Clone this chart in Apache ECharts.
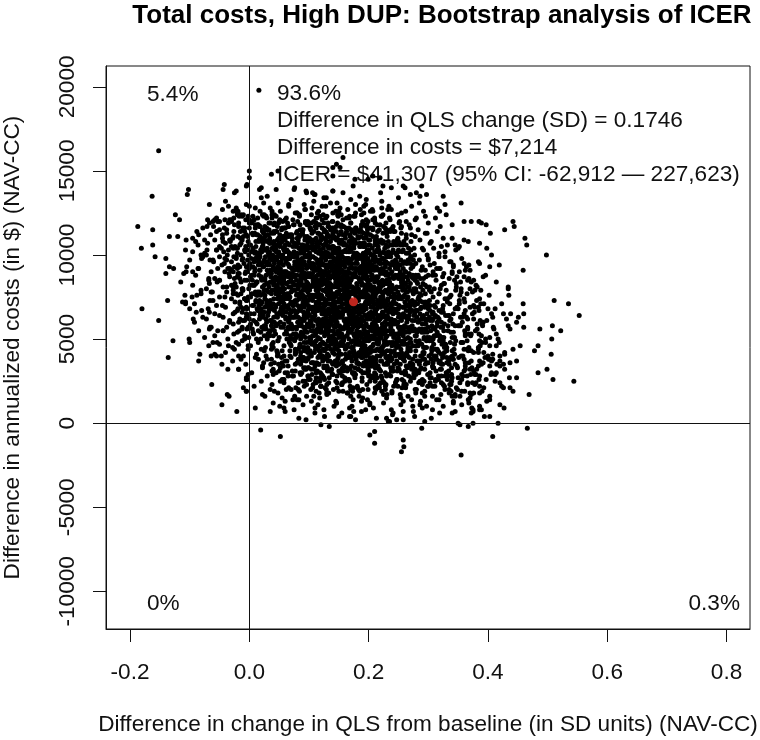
<!DOCTYPE html>
<html><head><meta charset="utf-8">
<script src="https://cdn.jsdelivr.net/npm/echarts@6/dist/echarts.min.js"></script>
<style>html,body{margin:0;padding:0;background:#fff}#chart{width:760px;height:740px}</style>
</head><body><div id="chart"></div>
<script>
// Bootstrap replicates, stored as flat pairs:
// [QLS difference in thousandths of an SD, cost difference in hundreds of $, ...]
const coreUpper = [
-25,137,30,135,75,139,110,136,140,138,185,135,220,137,270,136,
-40,132,-5,130,20,134,48,131,70,133,92,130,108,132,125,134,147,131,170,133,195,130,222,132,250,134,285,131,
-45,127,-20,125,0,129,18,126,35,128,52,126,66,129,80,125,93,127,105,128,116,126,128,129,140,125,152,128,165,127,178,125,192,129,207,126,222,128,238,127,255,125,272,129,292,126,315,128,
-55,122,-30,120,-10,124,8,121,24,123,38,124,50,120,62,122,73,121,84,123,94,120,104,124,113,122,122,121,130,123,139,120,148,124,157,121,167,122,177,123,188,124,199,120,210,121,222,123,235,122,249,124,263,120,278,121,295,123,312,122,-70,121,330,124,
-60,117,-38,115,-18,119,0,116,15,118,29,116,42,119,54,115,65,117,75,118,85,115,94,119,102,116,110,117,118,118,125,115,132,119,139,116,146,117,154,118,162,116,170,119,179,115,188,117,197,118,207,116,218,115,229,119,241,117,254,116,268,118,283,115,300,119,320,117,-78,116,340,118,88,115,148,119,60,116,196,117,
-65,112,-45,110,-26,114,-10,111,5,113,18,110,30,112,41,114,52,111,62,113,71,112,80,110,89,114,97,111,105,113,112,110,119,112,126,114,133,111,140,113,147,110,154,114,161,112,169,111,177,113,185,114,194,110,203,112,213,111,224,113,236,114,249,110,263,112,278,111,295,113,315,114,-85,112,340,110,24,113,66,111,108,114,150,112,192,110,230,113,84,111,128,114,172,110,12,112,
-70,107,-50,105,-32,109,-16,106,-2,108,11,105,23,107,34,109,45,106,55,108,64,107,73,105,82,109,90,106,98,108,106,105,113,107,120,109,127,106,134,108,141,105,148,109,155,107,162,106,169,108,177,109,185,105,193,107,202,106,211,108,221,109,232,105,244,107,257,106,271,108,286,109,303,107,322,105,-90,108,345,106,18,109,50,107,78,105,102,108,124,106,146,109,168,105,190,107,215,108,240,106,60,109,116,105,176,107,30,108,88,106,200,109,
-75,101,-55,103,-37,100,-21,104,-7,102,6,104,18,101,29,103,39,100,49,102,58,103,67,100,75,102,83,104,91,101,98,100,105,104,112,102,119,103,126,101,133,104,140,102,147,101,154,100,161,103,168,102,175,104,183,100,191,101,199,103,208,100,217,103,227,104,238,101,250,102,263,101,277,100,292,103,309,104,328,102,-95,102,350,104,14,101,44,103,70,100,94,103,116,101,136,104,156,102,178,100,202,101,230,100,258,103,60,102,108,104,150,104,196,102,80,100,124,101,170,103,34,100,214,102,100,104,140,101
];
const coreMiddle = [
-80,98,-60,96,-42,95,-26,99,-12,97,1,95,13,99,24,96,34,98,44,97,53,96,62,98,70,99,78,95,86,97,93,99,100,96,107,95,114,97,121,98,128,97,135,95,142,98,149,99,156,96,163,98,170,97,177,95,184,99,191,96,199,95,207,97,216,96,225,98,235,99,246,96,258,95,271,99,285,97,300,98,318,99,338,96,-100,97,360,95,10,98,40,97,68,98,92,96,114,95,134,99,154,96,174,99,196,98,220,97,248,95,55,98,104,95,146,97,188,99,76,96,120,97,166,98,30,95,210,96,96,99,138,95,180,97,18,99,240,96,160,98,
-85,92,-64,90,-46,94,-30,91,-16,93,-3,90,9,92,20,94,30,91,40,93,49,92,58,90,66,94,74,91,82,93,89,90,96,92,103,94,110,91,117,93,124,90,131,94,138,92,145,91,152,93,159,94,166,90,173,92,180,91,187,93,194,94,202,90,210,92,219,91,228,93,238,94,249,92,261,90,274,93,288,91,303,94,320,92,340,90,-105,93,362,91,15,94,45,90,72,92,97,93,119,91,139,94,159,90,179,92,200,93,224,91,252,94,60,90,109,93,151,91,193,92,81,94,125,90,171,93,35,91,215,92,101,94,143,90,185,91,23,93,245,92,165,90,128,94,88,91,208,93,52,92,
-90,88,-68,86,-50,85,-34,89,-20,87,-7,89,5,85,16,88,26,86,36,87,45,85,54,87,62,89,70,86,78,88,86,86,93,89,100,87,107,85,114,88,121,87,128,85,135,86,142,88,149,89,156,87,163,88,170,85,177,89,184,86,191,89,198,87,206,88,214,86,223,85,232,88,242,86,253,89,265,87,278,85,292,86,307,88,324,87,344,85,-110,89,366,85,20,87,50,86,77,88,102,89,124,87,144,89,164,85,184,86,205,88,229,88,257,86,65,89,114,85,156,87,198,85,86,88,130,89,176,87,40,86,220,89,106,87,148,85,190,86,28,88,250,86,170,85,133,88,93,89,213,87,57,87,118,89,235,86,
-95,82,-72,80,-54,84,-38,81,-24,83,-11,80,1,82,12,84,22,81,32,83,41,82,50,80,58,84,66,81,74,83,82,80,89,82,96,84,103,81,110,83,117,80,124,84,131,82,138,81,145,83,152,84,159,80,166,82,173,81,180,83,187,84,194,80,201,82,209,81,217,83,226,84,235,82,245,80,256,83,268,81,281,84,295,82,310,80,327,83,347,81,-115,84,370,80,25,82,55,83,82,81,107,84,129,80,149,83,169,81,189,82,210,84,234,80,262,83,70,81,119,82,161,84,203,80,91,81,135,83,181,82,45,80,225,84,111,81,153,83,195,82,33,81,255,84,175,80,138,82,98,83,218,81,62,83,123,84,240,80,8,82,
-88,76,-62,78,-41,75,-27,79,-14,77,-2,75,10,78,19,76,29,79,37,77,47,78,55,75,63,77,72,79,79,76,87,78,94,75,101,79,109,76,116,77,122,75,129,78,136,79,143,76,150,77,157,75,164,79,171,78,178,76,186,77,193,79,200,75,208,76,215,78,224,77,233,79,243,76,252,75,263,78,275,77,288,76,302,79,318,77,336,75,355,78,-108,76,378,79,4,77,33,78,60,75,84,77,106,76,126,79,147,78,167,75,188,76,212,77,238,79,266,75,52,78,98,78,139,77,182,75,76,79,119,76,160,77,228,78,14,76,204,75,112,79,154,76,196,78,24,77,68,75,132,79,175,78,90,76,220,75,144,77,42,79,258,75,190,77,
-92,71,-66,73,-45,70,-30,74,-16,72,-4,73,7,70,17,72,26,74,35,71,44,70,53,72,61,74,69,71,77,73,84,74,92,71,99,70,106,73,113,72,120,74,127,70,134,71,141,73,148,72,155,71,162,74,169,70,176,72,183,73,191,70,198,74,206,72,214,71,222,73,231,70,240,71,250,74,261,72,273,73,286,73,300,70,315,72,332,74,352,71,-112,72,376,70,11,73,40,71,66,74,90,72,112,71,133,74,153,73,173,70,194,71,217,72,243,74,270,70,56,73,103,74,144,72,186,70,80,73,124,71,164,72,232,74,20,71,208,70,117,73,158,71,200,73,30,72,73,70,138,74,180,73,95,71,225,70,149,72,47,74,262,70,195,72,
-80,67,-58,65,-40,69,-24,66,-10,68,2,65,13,68,23,66,33,69,42,67,51,66,60,69,68,65,76,67,84,68,91,66,98,65,105,69,112,67,119,68,126,65,133,67,140,68,147,66,154,69,161,67,168,65,175,68,182,69,189,66,196,68,204,66,212,65,220,69,229,67,238,69,248,68,258,65,269,66,281,67,294,69,308,66,324,68,342,65,362,67,-100,68,384,69,18,66,46,65,72,67,96,65,118,68,139,66,159,67,179,69,200,65,224,66,250,68,278,67,62,69,110,66,150,69,192,67,86,68,130,65,170,67,240,66,26,69,214,68,122,65,162,68,206,65,36,69,80,66,144,67,186,66,100,68,232,67,156,65,54,69,
-72,62,-50,64,-33,61,-18,60,-5,63,7,61,18,64,28,62,38,60,47,63,56,64,65,61,73,63,81,60,89,62,96,63,103,60,110,64,117,61,124,62,131,60,138,63,145,62,152,64,159,61,166,60,173,62,180,63,187,61,194,64,201,63,209,60,217,61,225,64,234,62,243,61,253,63,264,60,276,64,289,62,303,61,318,62,335,64,354,63,-92,60,376,62,387,61,23,64,52,60,78,63,101,64,122,60,143,63,163,61,183,62,205,64,229,63,255,61,283,60,67,62,115,60,156,64,198,62,92,61,136,63,176,62,246,60,31,64,219,63,127,61,168,63,211,61,42,60,85,62,148,64,191,61,106,63,238,62
];
const coreLower = [
-66,57,-44,55,-27,59,-12,56,1,58,13,59,24,56,34,55,44,58,53,57,62,55,71,58,79,56,87,59,95,57,102,58,109,55,116,57,123,59,130,56,137,59,144,57,151,55,158,56,165,58,172,56,179,59,186,58,193,55,200,57,207,58,215,56,223,57,231,59,240,55,250,57,260,58,271,56,283,55,296,59,311,56,327,59,345,58,366,57,-85,55,390,59,28,56,57,57,83,58,106,55,128,57,149,55,169,56,189,58,211,59,235,55,262,57,290,59,72,56,120,58,161,58,204,56,97,59,141,55,182,57,252,56,37,58,225,55,133,59,174,57,217,55,48,59,91,57,154,56,196,58,
-58,52,-36,50,-20,54,-6,51,7,53,19,54,30,50,40,52,50,51,59,53,68,50,77,53,85,52,93,54,101,51,108,52,115,50,122,54,129,53,136,51,143,53,150,51,157,50,164,52,171,54,178,51,185,53,192,50,199,54,206,52,213,54,221,52,229,51,238,53,247,50,257,53,268,54,280,52,293,50,308,51,324,50,342,54,362,52,-75,51,385,53,34,52,63,50,89,53,112,54,134,51,155,51,175,53,196,54,218,50,243,52,270,50,298,51,78,53,126,52,167,54,210,52,103,50,147,53,188,51,258,54,44,53,231,52,140,51,180,50,223,54,
-50,47,-28,45,-12,49,2,46,15,48,27,45,38,47,48,49,58,46,67,48,76,49,85,46,93,45,101,48,109,47,116,45,123,48,130,46,137,49,144,47,151,46,158,49,165,47,172,45,179,48,186,47,193,45,200,49,207,46,214,48,222,45,230,47,239,48,248,46,258,49,269,48,281,46,294,45,309,47,325,49,344,47,365,49,-68,46,390,48,40,45,70,46,96,48,119,47,141,49,162,45,182,48,203,45,226,47,252,49,280,46,306,49,85,47,133,46,174,45,217,48,110,46,154,48,196,49,265,47,
-40,42,-18,40,-2,44,12,41,25,43,37,44,48,41,58,40,68,43,77,42,86,40,95,43,103,41,111,44,119,42,126,43,133,40,140,42,147,44,154,41,161,44,168,42,175,40,182,41,189,43,196,41,203,44,211,43,219,40,227,42,236,43,245,41,255,42,266,44,278,40,291,42,306,43,322,41,340,40,360,44,-58,41,384,44,46,43,78,42,104,40,128,44,150,41,171,42,192,43,214,40,238,42,265,40,292,41,92,43,143,44,184,42,
-28,37,-6,35,10,39,24,36,37,38,49,35,60,37,70,39,80,36,90,38,99,39,108,36,116,35,124,38,132,37,140,35,148,38,156,36,164,39,172,37,180,36,188,39,196,37,204,35,212,38,220,37,229,35,238,39,248,36,258,38,269,35,281,37,294,38,308,36,324,39,342,38,362,36,-46,35,386,37,54,39,88,37,115,39,139,36,161,38,183,35,206,36,232,38,260,37,
-18,32,4,30,22,34,38,31,52,33,65,34,77,31,88,30,99,33,109,32,119,30,128,33,137,31,146,34,155,32,164,33,173,30,182,32,191,34,200,31,209,34,218,32,228,30,238,31,249,33,261,31,274,34,288,33,303,30,320,32,339,33,360,31,-36,32,384,34,60,30,95,32,125,33,150,31,176,30,203,34,
-5,27,20,25,40,29,57,26,72,28,86,29,99,26,111,25,123,28,134,27,145,25,156,28,167,26,178,29,189,27,200,28,211,25,222,27,234,29,247,26,261,29,276,27,293,25,312,26,333,28,356,26,380,29,65,28,118,25,160,27,205,28,
8,22,35,20,58,24,78,21,96,23,112,24,127,21,141,20,155,23,169,22,183,20,197,23,211,21,226,24,242,22,259,23,278,20,299,22,322,24,347,21,374,24,120,22,190,20,
22,17,55,15,84,19,108,16,130,18,150,19,170,16,190,15,210,18,231,17,254,15,279,18,307,16,338,19,372,17,165,18,
40,12,80,14,115,11,145,13,172,10,198,14,225,12,254,11,287,13,325,10,368,12,
60,7,110,9,155,6,195,8,240,5,290,9,345,7,
95,2,170,4,235,1,305,3
];
const denseUpper = [
114,125,186,127,25,124,145,126,232,127,77,125,124,124,203,126,
118,123,190,120,29,122,149,123,236,121,81,120,128,122,207,121,6,123,163,122,108,120,221,123,60,121,175,123,
122,116,194,118,33,119,153,117,240,116,85,118,132,117,211,119,10,118,167,116,112,119,225,117,64,119,179,116,99,118,251,119,47,117,142,116,188,118,26,117,
126,114,198,115,37,113,157,112,244,114,89,113,136,115,215,114,14,112,171,115,116,113,229,115,68,112,183,114,103,115,255,113,51,112,146,114,192,113,30,115,163,114,131,112,207,115,79,113,238,115,120,112,178,114,22,115,
130,111,202,109,41,108,161,110,248,109,93,111,140,110,219,108,18,111,175,109,120,111,233,108,72,110,187,111,107,109,259,108,55,110,150,109,196,111,34,110,167,108,135,111,211,109,83,111,242,108,124,110,182,111,26,109,225,108,99,110,155,109,63,111,263,110,114,108,
134,105,206,104,45,106,165,105,252,107,97,106,144,104,223,107,22,105,179,107,124,104,237,106,76,107,191,105,111,104,263,106,59,105,154,107,200,106,38,104,171,107,139,105,215,107,87,104,246,106,128,107,186,105,30,104,229,106,103,105,159,107,67,106,267,104,118,107,194,105,52,107,148,104,210,106,82,107,175,105,
138,100,210,102,49,101,169,103,256,102,101,100,148,103,227,101,26,103,183,100,128,102,241,103,80,101,195,100,115,102,267,101,63,103,158,102,204,100,42,103,175,101,143,103,219,100,91,102,250,103,132,101,190,100,34,102,233,101,107,103,163,102,71,100,271,103,122,101,198,103,56,100,152,102,214,103,86,101,179,100,21,102,245,101,97,103,225,102,
142,98,214,97,53,99,173,98,260,96,105,99,152,97,231,99,30,96,187,98,132,99,245,97,84,96,199,98,119,97,271,99,67,98,162,96,208,99,46,97,179,99,147,96,223,98,95,99,254,97,136,96,194,98,38,97,237,99,111,98,167,96,75,99,275,97,126,99,202,96,60,98,156,99,218,97,90,96,183,98,25,97,249,99,101,98,229,96,139,99,266,97,80,99,191,96,
146,93,218,95,57,94,177,92,264,95,109,93,156,95,235,92,34,94,191,95,136,93,249,92,88,94,203,93,123,95,275,94,71,92,166,95,212,93,50,95,183,92,151,94,227,95,99,93,258,92,140,94,198,93,42,95,241,94,115,92,171,95,79,93,279,95,130,92,206,94,64,95,160,93,222,92,94,94,187,93,29,95,253,94,105,92,233,95,143,93,270,95,84,92,195,94,119,95,245,93,
150,91,222,90,61,88,181,91,268,89,113,91,160,88,239,90,38,91,195,89,140,88,253,90,92,89,207,91,127,90,279,88,75,91,170,89,216,91,54,88,187,90,155,91,231,89,103,88,262,90,144,89,202,91,46,90,245,88,119,91,175,89,83,91,283,88,134,90,210,91,68,89,164,88,226,90,98,89,191,91,33,90,257,88,109,91,237,89,147,91,274,88,88,90,199,91,123,89,249,88,156,90,72,89,
154,86,226,84,65,87,185,85,272,87,117,84,164,86,243,87,42,85,199,84,144,86,257,85,96,87,211,86,131,84,283,87,79,85,174,87,220,84,58,86,191,87,159,85,235,84,107,86,266,85,148,87,206,86,50,84,249,87,123,85,179,87,87,84,287,86,138,87,214,85,72,84,168,86,230,85,102,87,195,86,37,84,261,87,113,85,241,87,151,84,278,86,92,87,203,85,127,84,253,86,160,85,76,87,
158,80,230,83,69,81,189,83,276,80,121,82,168,83,247,81,46,80,203,82,148,81,261,83,100,82,215,80,135,83,287,81,83,83,178,80,224,82,62,83,195,81,163,80,239,82,111,81,270,83,152,82,210,80,54,83,253,81,127,83,183,80,91,82,291,83,142,81,218,80,76,82,172,81,234,83,106,82,199,80,41,83,265,81,117,83,245,80,155,82,282,83,96,81,207,80,131,82,257,81,164,83,80,82
];
const denseLower = [
162,79,234,77,73,79,193,76,280,78,125,79,172,77,251,76,50,78,207,77,152,79,265,78,104,76,219,79,139,77,291,79,87,76,182,78,228,79,66,77,199,76,167,78,243,77,115,79,274,78,156,76,214,79,58,77,257,79,131,76,187,78,95,79,295,77,146,76,222,78,80,77,176,79,238,78,110,76,203,79,45,77,269,79,121,76,249,78,159,79,286,77,100,76,211,78,135,77,261,79,168,78,84,76,
166,73,238,75,77,72,197,74,284,75,129,73,176,72,255,74,54,73,211,75,156,74,269,72,108,75,223,73,143,75,295,72,91,74,186,75,232,73,70,72,203,74,171,73,247,75,119,74,278,72,160,75,218,73,62,75,261,72,135,74,191,75,99,73,299,72,150,74,226,73,84,75,180,74,242,72,114,75,207,73,49,75,273,72,125,74,253,75,163,73,290,72,104,74,215,73,139,75,265,74,172,72,88,75,
170,71,242,68,81,70,201,71,288,69,133,68,180,70,259,69,58,71,215,70,160,68,273,71,112,69,227,71,147,68,299,70,95,71,190,69,236,68,74,70,207,69,175,71,251,70,123,68,282,71,164,69,222,71,66,68,265,70,139,71,195,69,103,68,303,70,154,69,230,71,88,70,184,68,246,71,118,69,211,71,53,68,277,70,129,71,257,69,167,68,294,70,108,69,219,71,143,70,269,68,176,71,92,69,
174,64,246,66,85,67,205,65,292,64,137,66,184,65,263,67,62,66,219,64,164,67,277,65,116,67,231,64,151,66,303,67,99,65,194,64,240,66,78,65,211,67,179,66,255,64,127,67,286,65,168,67,226,64,70,66,269,67,143,65,199,64,107,66,307,65,158,67,234,66,92,64,188,67,250,65,122,67,215,64,57,66,281,67,133,65,261,64,171,66,298,65,112,67,223,66,147,64,273,67,
178,62,250,63,89,61,209,60,296,62,141,61,188,63,267,62,66,60,223,63,168,61,281,63,120,60,235,62,155,63,307,61,103,60,198,62,244,61,82,63,215,62,183,60,259,63,131,61,290,63,172,60,230,62,74,63,273,61,147,60,203,62,111,61,311,63,162,62,238,60,96,63,192,61,254,63,126,60,219,62,61,63,285,61,137,60,265,62,175,61,302,63,116,62,227,60,151,63,277,61,
182,59,254,57,93,56,213,58,300,57,145,59,192,58,271,56,70,59,227,57,172,59,285,56,124,58,239,59,159,57,311,56,107,58,202,57,248,59,86,58,219,56,187,59,263,57,135,59,294,56,176,58,234,59,78,57,277,56,151,58,207,57,115,59,315,58,166,56,242,59,100,57,196,59,258,56,130,58,223,59,65,57,289,56,141,58,269,57,179,59,306,58,120,56,231,59,
186,53,258,52,97,54,217,53,304,55,149,54,196,52,275,55,74,53,231,55,176,52,289,54,128,55,243,53,163,52,315,54,111,53,206,55,252,54,90,52,223,55,191,53,267,55,139,52,298,54,180,55,238,53,82,52,281,54,155,53,211,55,119,54,319,52,170,55,246,53,104,55,200,52,262,54,134,55,227,53,69,52,293,54,145,53,273,55,183,54,310,52,
190,48,262,50,101,49,221,51,308,50,153,48,200,51,279,49,78,51,235,48,180,50,293,51,132,49,247,48,167,50,319,49,115,51,210,50,256,48,94,51,227,49,195,51,271,48,143,50,302,51,184,49,242,48,86,50,285,49,159,51,215,50,123,48,323,51,174,49,250,51,108,48,204,50,266,51,138,49,231,48,73,50,297,49,
194,46,266,45,105,47,225,46,312,44,157,47,204,45,283,47,82,44,239,46,184,47,297,45,136,44,251,46,171,45,323,47,119,46,214,44,260,47,98,45,231,47,199,44,275,46,147,47,306,45,188,44,246,46,90,45,289,47,163,46,219,44,127,47,327,45,178,47,254,44,112,46,208,47,270,45,
198,41,270,43,109,42,229,40,316,43,161,41,208,43,287,40,86,42,243,43,188,41,301,40,140,42,255,41,175,43,327,42,123,40,218,43,264,41,102,43,235,40,203,42,279,43,151,41,310,40,192,42,250,41,94,43,293,42,167,40,223,43,131,41,331,43,182,40,
202,39,274,38,113,36,233,39,320,37,165,39,212,36,291,38,90,39,247,37,192,36,305,38,144,37,259,39,179,38,331,36,127,39,222,37,268,39,106,36,239,38,207,39,283,37,155,36,314,38,196,37,254,39,98,38,297,36,171,39,
206,34,278,32,117,35,237,33,324,35,169,32,216,34,295,35,94,33,251,32,196,34,309,33,148,35,263,34,183,32,335,35,131,33,226,35,272,32,110,34,243,35,211,33,287,32,159,34,
210,28,282,31,121,29,241,31,328,28,173,30,220,31,299,29,98,28,255,30,200,29,313,31,152,30,267,28,187,31,339,29,135,31,230,28,276,30,114,31,
214,27,286,25,125,27,245,24,332,26,177,27,224,25,303,24,102,26,259,25,204,27,317,26,156,24,271,27,
218,21,290,23,129,20,249,22,336,23,181,21,228,20,307,22,106,21,263,23,
222,19,294,16,133,18,253,17,340,16,185,19
];
const denseMid = [
-8,116,14,118,33,115,49,119,66,117,80,114,97,118,112,116,125,119,141,115,156,117,170,119,188,114,203,116,219,118,236,115,255,117,22,114,58,116,90,115,133,117,178,116,0,119,104,119,
-15,110,6,112,24,109,41,113,57,111,72,108,86,112,101,110,115,113,128,109,142,111,155,108,169,112,183,110,198,113,214,109,231,111,250,108,272,112,16,108,49,110,93,109,121,111,162,113,207,111,136,108,
-20,104,2,106,19,103,35,107,51,105,65,102,79,106,93,104,106,107,119,103,132,105,145,102,158,106,171,104,185,107,200,103,216,105,233,102,253,106,276,104,10,102,44,104,86,103,112,105,151,107,192,105,126,106,166,102,
-22,98,-1,100,16,97,32,101,47,99,61,96,75,100,88,98,101,101,114,97,127,99,140,96,153,100,166,98,180,101,195,97,211,99,228,96,247,100,270,98,8,96,40,98,81,97,107,99,146,101,187,99,121,100,160,96,220,101,
-20,92,0,94,17,91,33,95,48,93,62,90,76,94,89,92,102,95,115,91,128,93,141,90,154,94,167,92,181,95,196,91,212,93,229,90,248,94,271,92,9,90,41,92,82,91,108,93,147,95,188,93,122,94,161,90,221,95,290,93,
-16,86,4,88,21,85,37,89,52,87,66,84,80,88,93,86,106,89,119,85,132,87,145,84,158,88,171,86,185,89,200,85,216,87,233,84,252,88,275,86,13,84,45,86,86,85,112,87,151,89,192,87,126,88,165,84,225,89,296,87,
-12,80,8,82,25,79,41,83,56,81,70,78,84,82,97,80,110,83,123,79,136,81,149,78,162,82,175,80,189,83,204,79,220,81,237,78,256,82,279,80,17,78,49,80,90,79,116,81,155,83,196,81,130,82,169,78,229,83,302,81,
-8,74,12,76,29,73,45,77,60,75,74,72,88,76,101,74,114,77,127,73,140,75,153,72,166,76,179,74,193,77,208,73,224,75,241,72,260,76,283,74,21,72,53,74,94,73,120,75,159,77,200,75,134,76,173,72,233,77,308,75,
-4,68,16,70,33,67,49,71,64,69,78,66,92,70,105,68,118,71,131,67,144,69,157,66,170,70,183,68,197,71,212,67,228,69,245,66,264,70,287,68,25,66,57,68,98,67,124,69,163,71,204,69,138,70,177,66,237,71,312,69,
0,62,20,64,37,61,53,65,68,63,82,60,96,64,109,62,122,65,135,61,148,63,161,60,174,64,187,62,201,65,216,61,232,63,249,60,268,64,291,62,29,60,61,62,102,61,128,63,167,65,208,63,142,64,181,60,241,65,316,63,
5,56,25,58,42,55,58,59,73,57,87,54,101,58,114,56,127,59,140,55,153,57,166,54,179,58,192,56,206,59,221,55,237,57,254,54,273,58,296,56,34,54,66,56,107,55,133,57,172,59,213,57,147,58,186,54,246,59,321,57,
12,50,31,52,48,49,63,53,78,51,92,48,106,52,119,50,132,53,145,49,158,51,171,48,184,52,197,50,211,53,226,49,242,51,259,48,278,52,301,50,40,48,71,50,112,49,138,51,177,53,218,51,152,52,191,48,251,53,326,51,
20,44,38,46,55,43,69,47,84,45,98,42,111,46,124,44,137,47,150,43,163,45,176,42,189,46,202,44,216,47,231,43,247,45,264,42,283,46,306,44,47,42,77,44,117,43,143,45,182,47,223,45,157,46,196,42,256,47,331,45,
30,38,47,40,63,37,77,41,91,39,104,36,117,40,130,38,143,41,156,37,169,39,182,36,195,40,208,38,222,41,237,37,253,39,270,36,289,40,312,38,55,36,84,38,123,37,149,39,188,41,229,39,163,40,202,36,262,41,337,39,
40,32,57,34,72,31,86,35,99,33,112,30,125,34,138,32,151,35,164,31,177,33,190,30,203,34,217,32,232,35,248,31,265,33,284,30,307,34,64,30,93,32,131,31,157,33,196,35,240,33,171,34,210,30,274,35,
55,26,74,28,90,25,105,29,119,27,133,24,147,28,161,26,175,29,189,25,204,27,220,24,237,28,256,26,279,29,305,27,82,24,126,26,168,25,212,29,246,25,140,29,
70,20,92,22,112,19,130,23,147,21,164,18,181,22,199,20,218,23,239,19,262,21,290,18,120,22,173,19,228,22,155,23
];
const lowerFill = [
15,38,42,36,68,40,95,37,121,39,148,36,176,40,203,38,231,36,258,39,286,37,313,40,341,38,368,36,395,39,420,37,28,40,82,38,135,37,190,39,245,40,300,36,355,40,408,38,
22,33,50,31,77,35,104,32,130,34,157,31,185,35,212,33,240,31,267,34,294,32,322,35,349,33,376,31,403,34,428,32,36,35,91,33,144,35,199,32,253,35,308,33,362,34,415,35,
30,28,58,26,85,30,112,27,139,29,166,26,194,30,221,28,248,26,276,29,303,27,331,30,358,28,385,26,412,29,436,27,45,30,99,28,152,30,207,27,262,30,317,28,371,29,
38,23,66,21,93,25,120,22,147,24,174,21,202,25,229,23,256,21,284,24,311,22,339,25,366,23,393,21,420,24,52,25,107,23,160,25,215,22,270,25,325,23,380,24,
48,18,76,16,103,20,130,17,157,19,184,16,212,20,239,18,266,16,294,19,321,17,349,20,376,18,403,16,62,20,117,18,170,20,225,17,280,20,335,18,390,19,
60,13,90,11,118,15,146,12,174,14,202,11,230,15,258,13,286,11,314,14,342,12,370,15,398,13,104,13,188,13,272,14,356,11,
75,8,110,6,142,10,175,7,208,9,241,6,274,10,307,8,340,6,373,9,125,8,258,7
];
const upperFill = [
10,128,38,126,66,130,94,127,122,129,150,126,178,130,206,127,234,129,262,126,24,131,80,125,136,131,192,125,
0,121,28,123,56,120,84,124,112,122,140,120,168,123,196,121,224,124,252,120,280,122,42,124,98,120,154,124,210,122,
-10,115,18,117,46,114,74,118,102,116,130,113,158,117,186,115,214,118,242,114,270,116,298,113,60,116,116,118,172,114,228,116
];
const leftCore = [
-30,121,-12,123,5,120,22,124,38,122,51,121,-20,124,14,122,45,123,-2,121,
-42,116,-25,118,-10,115,3,119,17,117,29,115,41,118,55,116,-35,119,-18,117,10,116,35,119,
-45,112,-28,110,-15,114,-3,111,9,113,20,110,32,112,44,114,58,111,-38,113,-8,114,26,111,50,110,
-40,107,-24,105,-12,109,0,106,11,108,23,105,34,107,47,109,60,106,-32,108,-6,105,16,109,41,106,
-43,102,-27,104,-14,100,-2,103,9,101,21,104,33,100,45,102,57,104,68,101,-20,101,4,102,27,103,52,100,
-38,97,-22,99,-9,95,3,98,15,96,27,99,39,97,51,95,63,98,-30,96,-3,97,21,95,45,99,
-36,92,-19,94,-6,90,6,93,18,91,30,94,42,92,55,90,67,93,-27,90,0,92,24,93,49,91,
-33,87,-17,89,-4,85,8,88,20,86,32,89,44,87,57,85,70,88,-25,86,2,87,26,85,50,89,
-30,82,-14,84,-1,80,11,83,23,81,35,84,47,82,59,80,-22,81,5,82,29,83,53,84,
-27,77,-11,79,2,75,14,78,26,76,38,79,50,77,62,75,-19,76,8,77,32,78,56,79,
-24,72,-8,74,5,70,17,73,29,71,41,74,53,72,65,70,-16,71,11,72,35,73,
-20,67,-5,69,8,65,20,68,32,66,44,69,56,67,-12,66,14,67,38,68,
-16,62,-2,64,11,60,23,63,35,61,47,64,-8,61,17,62,41,63,
-12,57,2,59,15,55,27,58,39,56,-4,56,21,57,45,58,
-8,52,6,54,19,50,31,53,-1,51,25,52
];
const rightCore = [
300,68,325,66,348,69,312,64,338,62,360,65,296,61,322,60,352,58,308,57,333,55,366,56,318,52,344,51,372,53,302,49,328,47,356,48,315,44,340,43,368,45,305,41,331,39,358,40,384,42,318,36,345,35,372,37,308,33,334,31,362,32,322,28,350,27,378,29,312,25,338,23,366,24,328,20,356,19,300,22,345,16,318,14,290,26,285,35,292,45,288,55
];
const rightMid = [
300,88,318,92,335,86,352,90,368,94,310,95,342,93,326,89,360,87,295,91,
305,78,322,82,338,76,355,80,372,84,388,79,313,85,347,83,330,79,365,77,298,81,380,82,
310,70,328,74,345,68,361,72,377,66,393,71,318,67,352,73,336,71,370,69,302,73,386,74,400,68,
315,60,333,64,350,58,366,62,382,56,398,61,324,57,357,63,341,59,374,65,307,62,391,58,408,63,
320,50,338,54,355,48,371,52,387,46,403,51,329,47,362,53,346,49,379,55,312,52,396,48,414,53,
325,40,343,44,360,38,376,42,392,36,408,41,334,37,367,43,351,39,384,45,318,42,401,38,
330,30,348,34,365,28,381,32,397,26,340,27,373,33,356,29,389,35,322,32,405,29,
335,20,353,24,370,18,386,22,345,17,378,23,361,19,327,22
];
const rightFill = [
290,104,305,108,318,101,332,106,346,103,360,109,298,100,325,110,352,105,
300,97,314,92,328,99,342,94,356,98,370,91,384,96,308,90,336,96,364,93,
312,88,326,83,340,89,354,84,368,86,382,81,396,88,320,80,348,87,376,85,
318,77,332,72,346,79,360,74,374,78,388,71,402,76,325,70,353,76,381,73,
322,66,336,61,350,68,364,63,378,69,392,60,406,65,329,64,357,60,385,67,
326,55,340,51,354,58,368,53,382,59,396,50,410,56,333,58,361,55,389,52,
330,45,344,41,358,48,372,43,386,49,400,40,414,46,337,48,365,44,393,42
];
const leftTail = [
-152,162,-163,135,-102,139,-104,136,-187,117,-162,115,-181,104,-162,106,-158,99,-140,98,-134,111,-124,124,-117,121,-140,89,-134,93,-127,92,-180,68,-152,61,-137,73,-128,49,-136,39,-101,50,-100,48,-83,41,-85,37,-63,23,-46,11,-37,17,-34,16,-21,7,-10,21,-5,19,-18,32,
-120,111,-106,109,-107,103,-95,110,-88,114,-86,106,-81,100,-75,109,-71,117,-67,130,-58,121,-50,120,-42,142,-44,139,-22,138,-35,129,-27,126,-22,128,-19,126,-106,90,-95,90,-86,92,-96,75,-81,79,-81,77,-107,71,-107,72,-89,66,-94,62,-78,63,-69,68,-67,66,-64,57,-67,56,-53,55,-54,48,-61,48,-44,55,-38,57,-35,46,-47,40,-55,40,-64,40,-25,44,-22,48,-18,47,-14,38,-2,29,-5,26,-10,40,-26,53,-17,55,-33,60,-44,63,-27,65,-19,68,-50,75,-61,73,-55,70,-64,78,-67,83,-68,85,-58,86,-50,85,-44,81,-38,78,-27,81,-22,77,-41,90,-33,92,-25,93,-19,89,-53,92,-61,97,-66,97,-50,99,-41,98,-55,103,-47,104,-35,103,-30,105,-72,100,-78,99,-71,103,-58,109,-44,108,-33,109,-27,111,-19,111,-50,115,-55,114,-67,119,-61,120,-53,120,-41,121,-33,121,-26,122,-17,123,-22,127,-14,124,-6,121,-2,123,-11,116,-5,112,-14,107,-8,103,-11,98,-5,93,-8,85,-11,79,-5,73,-14,69,-5,65,-11,61,-2,57,-8,50,-2,46
];
const rightTail = [
355,131,360,120,372,120,385,120,397,118,404,113,428,115,442,120,444,117,462,110,465,106,498,100,459,91,419,94,434,81,434,80,435,76,511,73,535,71,553,64,459,71,460,65,423,71,426,65,438,65,451,63,448,60,460,57,434,58,437,56,487,56,508,58,522,55,507,50,484,46,478,43,506,41,499,32,484,30,509,26,544,25,469,17,448,27,437,36,448,37,442,44,454,46,420,40,428,42,426,35,420,34,412,25,426,21,437,21,442,19,406,30,406,37,419,48,420,11,427,9,403,4,417,0,466,-3,408,-8,355,-19,375,0,367,-2,353,-1,389,8,375,8,372,6,
367,108,386,107,398,104,406,100,386,95,403,93,414,84,392,87,412,68,431,62,409,57,417,50,403,46,428,41,403,38,423,22,386,18,403,14,386,10,367,14,353,16,414,30,386,28,370,32
];
const topFringe = [
16,198,37,148,48,150,146,154,157,158,140,152,152,152,177,145,199,145,219,146,261,140,289,141,297,136,325,135,-5,141,17,139,45,139,76,140,96,137,109,136,-4,142,20,140,140,147,207,147,280,137,286,135,328,130,319,126,258,141,238,140,224,141,196,133,174,141,157,137,140,138,129,134,106,137,95,138,0,150,0,146,389,119
];
const bottomFringe = [
19,-4,52,-8,202,-7,210,-5,210,-12,258,-10,259,-14,255,-17,289,-3,120,-1,134,-2,83,3,126,4,150,4,168,4,178,2,213,3,230,3,233,1,247,2,258,2,277,4,294,1,319,6,350,0,375,7,386,8,394,4,10,9,35,7,51,10,58,9,73,14,83,14,96,16,146,12,168,9,188,7,202,12,238,8,275,7,297,10,342,13,-5,19,-4,26,26,16,42,19,82,20
];
const pointEstimate = [0.1746, 7214];
const xTicks = [-0.2, 0, 0.2, 0.4, 0.6, 0.8];
const yTicks = [-10000, -5000, 0, 5000, 10000, 15000, 20000];
const chartTitle = 'Total costs, High DUP: Bootstrap analysis of ICER';
const xTitle = 'Difference in change in QLS from baseline (in SD units) (NAV-CC)';
const yTitle = 'Difference in annualized costs (in $) (NAV-CC)';
const quadrantShares = ['5.4%', '93.6%', '0%', '0.3%'];
const summaryLines = ['Difference in QLS change (SD) = 0.1746', 'Difference in costs = $7,214', 'ICER = $41,307 (95% CI: -62,912 \u2014 227,623)'];

function toPoints(flat) {
  const out = [];
  for (let i = 0; i + 1 < flat.length; i += 2) out.push([flat[i] / 1000, flat[i + 1] * 100]);
  return out;
}
const replicates = [].concat(
  toPoints(coreUpper), toPoints(coreMiddle), toPoints(coreLower),
  toPoints(denseUpper), toPoints(denseLower), toPoints(denseMid),
  toPoints(lowerFill), toPoints(upperFill),
  toPoints(leftCore), toPoints(rightCore), toPoints(rightMid), toPoints(rightFill),
  toPoints(leftTail), toPoints(rightTail), toPoints(topFringe), toPoints(bottomFringe));

const FONT = '"Liberation Sans", Arial, Helvetica, sans-serif';
const TXT = '#111';
const FS = 22.6;
function label(text, x, y, align) {
  return { type: 'text', x: x, y: y, z: 100,
    style: { text: text, fill: TXT, font: FS + 'px ' + FONT, textAlign: align, textVerticalAlign: 'middle' } };
}

const chart = echarts.init(document.getElementById('chart'), null, { renderer: 'canvas' });
chart.setOption({
  animation: false,
  backgroundColor: '#fff',
  grid: { left: 106, right: 10, top: 66, bottom: 111, containLabel: false, outerBoundsMode: 'none',
          show: true, borderColor: '#111', borderWidth: 1 },
  xAxis: {
    type: 'value', min: -0.2403, max: 0.8393,
    splitLine: { show: false },
    axisLine: { show: true, onZero: false, lineStyle: { color: '#111' } },
    axisTick: { show: true, inside: false, length: 13, customValues: xTicks, lineStyle: { color: '#111' } },
    axisLabel: { customValues: xTicks, formatter: v => Number(v).toFixed(1), fontSize: FS, fontFamily: FONT, color: TXT, margin: 32 },
    name: xTitle, nameLocation: 'middle', nameGap: 84,
    nameTextStyle: { fontSize: FS, fontFamily: FONT, color: TXT }
  },
  yAxis: {
    type: 'value', min: -12240, max: 21240,
    splitLine: { show: false },
    axisLine: { show: true, onZero: false, lineStyle: { color: '#111' } },
    axisTick: { show: true, inside: false, length: 13, customValues: yTicks, lineStyle: { color: '#111' } },
    axisLabel: { customValues: yTicks, formatter: v => String(Math.round(v)), rotate: 90, fontSize: FS, fontFamily: FONT, color: TXT, margin: 27 },
    name: yTitle, nameLocation: 'middle', nameGap: 82, nameRotate: 90,
    nameTextStyle: { fontSize: FS, fontFamily: FONT, color: TXT }
  },
  series: [
    {
      type: 'scatter', data: replicates, symbol: 'circle', symbolSize: 5,
      itemStyle: { color: '#000', opacity: 1 }, silent: true, z: 2, large: false,
      markLine: {
        silent: true, symbol: ['none', 'none'], label: { show: false },
        lineStyle: { color: '#111', width: 1, type: 'solid' },
        data: [{ xAxis: 0 }, { yAxis: 0 }]
      }
    },
    {
      type: 'scatter', data: [pointEstimate], symbol: 'circle', symbolSize: 9,
      itemStyle: { color: '#ee2f25' }, silent: true, z: 5
    }
  ],
  graphic: [
    { type: 'text', x: 442, y: 16, z: 100, style: { text: chartTitle, fill: '#000', font: 'bold 26px ' + FONT, textAlign: 'center', textVerticalAlign: 'middle' } },
    label(quadrantShares[0], 147, 95, 'left'),
    label(quadrantShares[1], 277, 94, 'left'),
    label(summaryLines[0], 277, 121, 'left'),
    label(summaryLines[1], 277, 148, 'left'),
    label(summaryLines[2], 277, 175, 'left'),
    label(quadrantShares[2], 147, 604, 'left'),
    label(quadrantShares[3], 740, 604, 'right')
  ]
});
</script>
</body></html>
